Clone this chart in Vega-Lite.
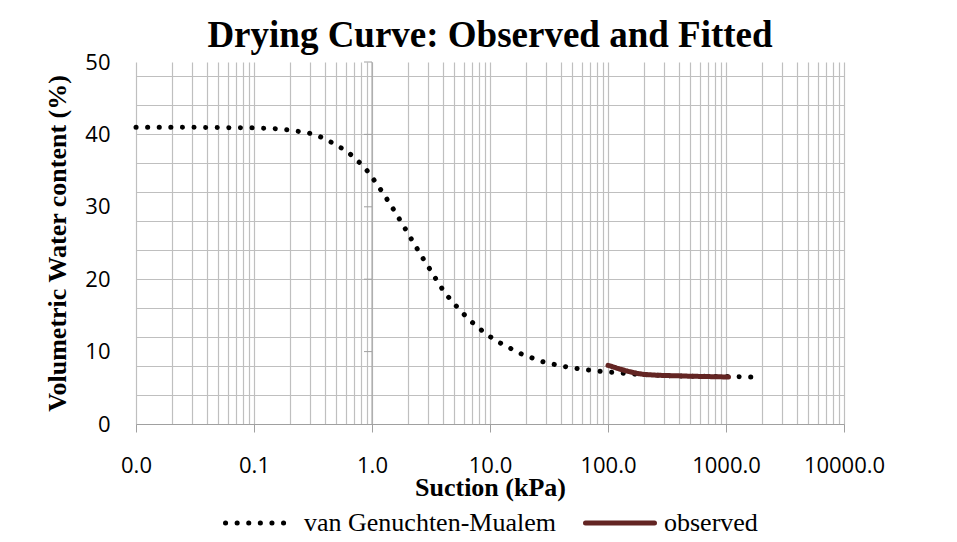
{
  "$schema": "https://vega.github.io/schema/vega-lite/v6.json",
  "width": 708,
  "height": 362,
  "autosize": "none",
  "padding": {"left": 136, "top": 62, "right": 113, "bottom": 118},
  "background": "white",
  "config": {"view": {"stroke": null}},
  "title": {
    "text": "Drying Curve: Observed and Fitted",
    "font": "Liberation Serif",
    "fontSize": 37,
    "fontWeight": "bold",
    "color": "#000000",
    "anchor": "middle",
    "frame": "group",
    "baseline": "alphabetic",
    "offset": -33
  },
  "datasets": {
    "curves": [
      {"h": 0.01, "theta": 41.0, "series": "van Genuchten-Mualem"},
      {"h": 0.02, "theta": 41.0, "series": "van Genuchten-Mualem"},
      {"h": 0.05, "theta": 40.95, "series": "van Genuchten-Mualem"},
      {"h": 0.1, "theta": 40.9, "series": "van Genuchten-Mualem"},
      {"h": 0.15, "theta": 40.8, "series": "van Genuchten-Mualem"},
      {"h": 0.2, "theta": 40.6, "series": "van Genuchten-Mualem"},
      {"h": 0.29, "theta": 40.2, "series": "van Genuchten-Mualem"},
      {"h": 0.35, "theta": 39.8, "series": "van Genuchten-Mualem"},
      {"h": 0.42, "theta": 39.2, "series": "van Genuchten-Mualem"},
      {"h": 0.5, "theta": 38.5, "series": "van Genuchten-Mualem"},
      {"h": 0.61, "theta": 37.7, "series": "van Genuchten-Mualem"},
      {"h": 0.73, "theta": 36.6, "series": "van Genuchten-Mualem"},
      {"h": 0.87, "theta": 35.4, "series": "van Genuchten-Mualem"},
      {"h": 1.04, "theta": 33.7, "series": "van Genuchten-Mualem"},
      {"h": 1.24, "theta": 31.9, "series": "van Genuchten-Mualem"},
      {"h": 1.5, "theta": 29.8, "series": "van Genuchten-Mualem"},
      {"h": 1.83, "theta": 27.5, "series": "van Genuchten-Mualem"},
      {"h": 2.18, "theta": 25.4, "series": "van Genuchten-Mualem"},
      {"h": 2.65, "theta": 23.1, "series": "van Genuchten-Mualem"},
      {"h": 3.2, "theta": 21.0, "series": "van Genuchten-Mualem"},
      {"h": 3.77, "theta": 19.1, "series": "van Genuchten-Mualem"},
      {"h": 4.4, "theta": 17.6, "series": "van Genuchten-Mualem"},
      {"h": 5.5, "theta": 15.8, "series": "van Genuchten-Mualem"},
      {"h": 6.5, "theta": 14.6, "series": "van Genuchten-Mualem"},
      {"h": 7.8, "theta": 13.4, "series": "van Genuchten-Mualem"},
      {"h": 9.4, "theta": 12.4, "series": "van Genuchten-Mualem"},
      {"h": 11.2, "theta": 11.5, "series": "van Genuchten-Mualem"},
      {"h": 13.6, "theta": 10.8, "series": "van Genuchten-Mualem"},
      {"h": 16.3, "theta": 10.1, "series": "van Genuchten-Mualem"},
      {"h": 19.4, "theta": 9.5, "series": "van Genuchten-Mualem"},
      {"h": 23, "theta": 9.1, "series": "van Genuchten-Mualem"},
      {"h": 28, "theta": 8.6, "series": "van Genuchten-Mualem"},
      {"h": 33.5, "theta": 8.3, "series": "van Genuchten-Mualem"},
      {"h": 40.7, "theta": 8.0, "series": "van Genuchten-Mualem"},
      {"h": 48.6, "theta": 7.8, "series": "van Genuchten-Mualem"},
      {"h": 58, "theta": 7.6, "series": "van Genuchten-Mualem"},
      {"h": 69, "theta": 7.45, "series": "van Genuchten-Mualem"},
      {"h": 84, "theta": 7.3, "series": "van Genuchten-Mualem"},
      {"h": 100, "theta": 7.2, "series": "van Genuchten-Mualem"},
      {"h": 150, "theta": 6.95, "series": "van Genuchten-Mualem"},
      {"h": 200, "theta": 6.8, "series": "van Genuchten-Mualem"},
      {"h": 300, "theta": 6.7, "series": "van Genuchten-Mualem"},
      {"h": 500, "theta": 6.6, "series": "van Genuchten-Mualem"},
      {"h": 1000, "theta": 6.55, "series": "van Genuchten-Mualem"},
      {"h": 1500, "theta": 6.5, "series": "van Genuchten-Mualem"},
      {"h": 2000, "theta": 6.5, "series": "van Genuchten-Mualem"},
      {"h": 100, "theta": 8.1, "series": "observed"},
      {"h": 110, "theta": 7.9, "series": "observed"},
      {"h": 125, "theta": 7.6, "series": "observed"},
      {"h": 150, "theta": 7.25, "series": "observed"},
      {"h": 175, "theta": 7.0, "series": "observed"},
      {"h": 200, "theta": 6.85, "series": "observed"},
      {"h": 250, "theta": 6.75, "series": "observed"},
      {"h": 300, "theta": 6.7, "series": "observed"},
      {"h": 400, "theta": 6.65, "series": "observed"},
      {"h": 500, "theta": 6.6, "series": "observed"},
      {"h": 700, "theta": 6.55, "series": "observed"},
      {"h": 1000, "theta": 6.5, "series": "observed"},
      {"h": 1050, "theta": 6.5, "series": "observed"}
    ]
  },
  "layer": [
    {
      "data": {"values": [{"s": 1}]},
      "mark": {"type": "rule", "color": "#a0a0a0", "strokeWidth": 1},
      "encoding": {
        "x": {
          "field": "s",
          "type": "quantitative",
          "scale": {"type": "log", "domain": [0.01, 10000], "nice": false},
          "axis": {
            "orient": "top",
            "values": [0.01, 0.02, 0.03, 0.04, 0.05, 0.06, 0.07, 0.08, 0.09,
                       0.1, 0.2, 0.3, 0.4, 0.5, 0.6, 0.7, 0.8, 0.9,
                       1, 2, 3, 4, 5, 6, 7, 8, 9,
                       10, 20, 30, 40, 50, 60, 70, 80, 90,
                       100, 200, 300, 400, 500, 600, 700, 800, 900,
                       1000, 2000, 3000, 4000, 5000, 6000, 7000, 8000, 9000, 10000],
            "grid": true,
            "gridColor": "#bfbfbf",
            "gridWidth": 1.2,
            "labels": false,
            "ticks": false,
            "domain": false,
            "title": null
          }
        }
      }
    },
    {
      "data": {"values": [{"s": 1, "v": 10}, {"s": 1, "v": 20}, {"s": 1, "v": 30}, {"s": 1, "v": 40}, {"s": 1, "v": 50}]},
      "mark": {"type": "point", "shape": "M-1,0L0,0", "size": 256, "filled": false, "stroke": "#a0a0a0", "strokeWidth": 1, "opacity": 1},
      "encoding": {
        "x": {"field": "s", "type": "quantitative", "scale": {"type": "log", "domain": [0.01, 10000], "nice": false}, "axis": null},
        "y": {
          "field": "v",
          "type": "quantitative",
          "scale": {"domain": [0, 50], "nice": false},
          "axis": {
            "orient": "right",
            "values": [0, 4, 8, 12, 16, 20, 24, 28, 32, 36, 40, 44, 48],
            "grid": true,
            "gridColor": "#bfbfbf",
            "gridWidth": 1.2,
            "labels": false,
            "ticks": false,
            "domain": false,
            "title": null
          }
        }
      }
    },
    {
      "data": {"name": "curves"},
      "mark": {"type": "line", "strokeCap": "round", "strokeJoin": "round", "strokeWidth": 5},
      "encoding": {
        "x": {
          "field": "h",
          "type": "quantitative",
          "scale": {"type": "log", "domain": [0.01, 10000], "nice": false},
          "axis": {
            "orient": "bottom",
            "values": [0.01, 0.1, 1, 10, 100, 1000, 10000],
            "format": ".1f",
            "grid": false,
            "domain": true,
            "domainColor": "#a0a0a0",
            "domainWidth": 1,
            "ticks": true,
            "tickColor": "#a0a0a0",
            "tickSize": 8,
            "tickWidth": 1,
            "labelFont": "Open Sans",
            "labelFontSize": 22,
            "labelColor": "#000000",
            "labelPadding": 23,
            "labelFlush": false,
            "labelOverlap": false,
            "title": "Suction (kPa)",
            "titleFont": "Liberation Serif",
            "titleFontSize": 26,
            "titleFontWeight": "bold",
            "titleColor": "#000000",
            "titlePadding": -2
          }
        },
        "y": {
          "field": "theta",
          "type": "quantitative",
          "scale": {"domain": [0, 50], "nice": false},
          "axis": {
            "orient": "left",
            "values": [0, 10, 20, 30, 40, 50],
            "grid": false,
            "domain": false,
            "ticks": false,
            "tickSize": 0,
            "labelFont": "Open Sans",
            "labelFontSize": 22,
            "labelColor": "#000000",
            "labelPadding": 26,
            "labelFlush": false,
            "labelOverlap": false,
            "title": "Volumetric Water content (%)",
            "titleFont": "Liberation Serif",
            "titleFontSize": 26,
            "titleFontWeight": "bold",
            "titleColor": "#000000",
            "titlePadding": 14
          }
        },
        "color": {
          "field": "series",
          "type": "nominal",
          "scale": {"domain": ["van Genuchten-Mualem", "observed"], "range": ["#000000", "#632523"]},
          "legend": {
            "orient": "none",
            "legendX": 87,
            "legendY": 424,
            "direction": "horizontal",
            "title": null,
            "symbolType": "stroke",
            "symbolSize": 4761,
            "symbolStrokeWidth": 5,
            "labelFont": "Liberation Serif",
            "labelFontSize": 26,
            "labelColor": "#000000",
            "labelLimit": 500,
            "labelOffset": 7,
            "columnPadding": 19,
            "encode": {"symbols": {"update": {"strokeCap": {"value": "round"}}}}
          }
        },
        "strokeDash": {
          "field": "series",
          "type": "nominal",
          "scale": {"domain": ["van Genuchten-Mualem", "observed"], "range": [[0.1, 11.5], [1, 0]]}
        }
      }
    }
  ]
}
